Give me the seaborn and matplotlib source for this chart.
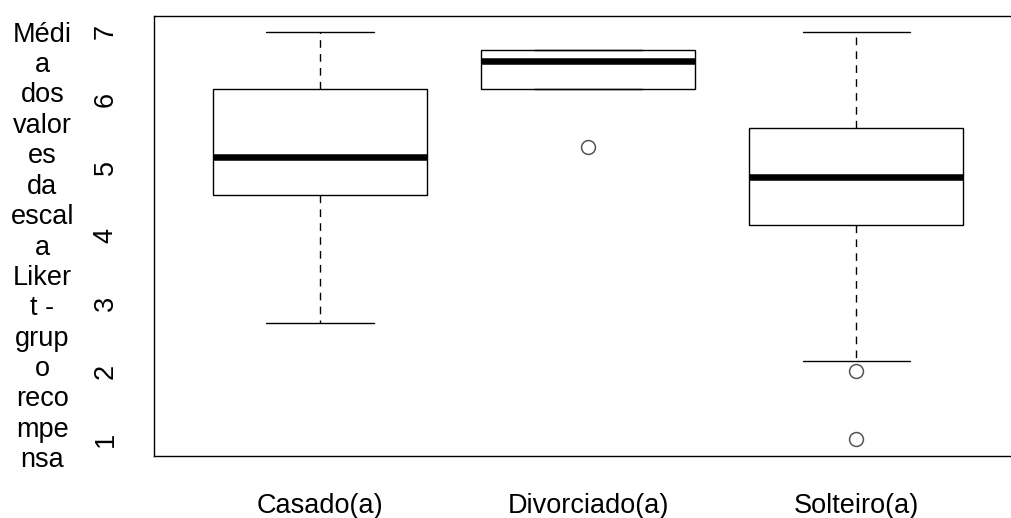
import matplotlib
matplotlib.use("Agg")
import matplotlib.pyplot as plt
import seaborn as sns
import pandas as pd

# Data
categories = ["Casado(a)", "Divorciado(a)", "Solteiro(a)"]
casado = [2.71, 4.59, 5.155, 6.16, 7.0]
divorciado = [5.30, 6.16, 6.57, 6.725, 6.725]
solteiro = [1.0, 2.0, 2.15, 4.154, 4.154, 4.154, 4.86, 5.587, 5.587, 5.587, 7.0, 7.0, 7.0]
y_ticks = [1, 2, 3, 4, 5, 6, 7]
ylabel_lines = ["Médi", "a", "dos", "valor", "es", "da", "escal", "a",
                "Liker", "t -", "grup", "o", "reco", "mpe", "nsa"]

df = pd.DataFrame({
    "grupo": [categories[0]] * len(casado) + [categories[1]] * len(divorciado)
             + [categories[2]] * len(solteiro),
    "valor": casado + divorciado + solteiro,
})

sns.set_style("white")
plt.rcParams["font.family"] = ["Liberation Sans", "DejaVu Sans"]

W, H = 1011, 518
fig = plt.figure(figsize=(W / 100, H / 100), dpi=100)
left_px, right_px, top_px, bot_px = 153.8, 1022.4, 15.5, 455.5
ax = fig.add_axes([left_px / W, (H - bot_px) / H,
                   (right_px - left_px) / W, (bot_px - top_px) / H])

sns.boxplot(
    data=df, x="grupo", y="valor", order=categories, ax=ax,
    color="white", saturation=1, linecolor="black", linewidth=1.0,
    width=0.8, whis=1.43,
    medianprops=dict(color="black", linewidth=4.7, solid_capstyle="butt"),
    whiskerprops=dict(color="black", linewidth=1.0, linestyle=(0, (5.5, 4.5))),
    capprops=dict(color="black", linewidth=1.0),
    boxprops=dict(edgecolor="black", linewidth=1.0, facecolor="white"),
    flierprops=dict(marker="o", markersize=10, markerfacecolor="none",
                    markeredgecolor="#555555", markeredgewidth=1.1),
)

ax.set_xlim(-0.62, 2.62)
ax.set_ylim(0.76, 7.24)
ax.set_yticks(y_ticks)
ax.set_yticklabels([str(v) for v in y_ticks])
ax.set_xlabel("")
ax.set_ylabel("")

for s in ax.spines.values():
    s.set_visible(True)
    s.set_color("black")
    s.set_linewidth(1.0)

ax.tick_params(axis="both", which="major", direction="out", length=12.3,
               width=1.0, color="black", labelsize=19.5, labelcolor="black")
ax.tick_params(axis="x", pad=15)
ax.tick_params(axis="y", pad=13, labelrotation=90)
for lab in ax.get_yticklabels():
    lab.set_va("center")

# Wrapped y-axis label, drawn line by line as in the reference
for i, line in enumerate(ylabel_lines):
    base_y = 41.7 + i * 30.4
    fig.text(42.5 / W, 1 - base_y / H, line, ha="center", va="baseline",
             fontsize=19.5, color="black")

fig.savefig("out.png", dpi=100)
